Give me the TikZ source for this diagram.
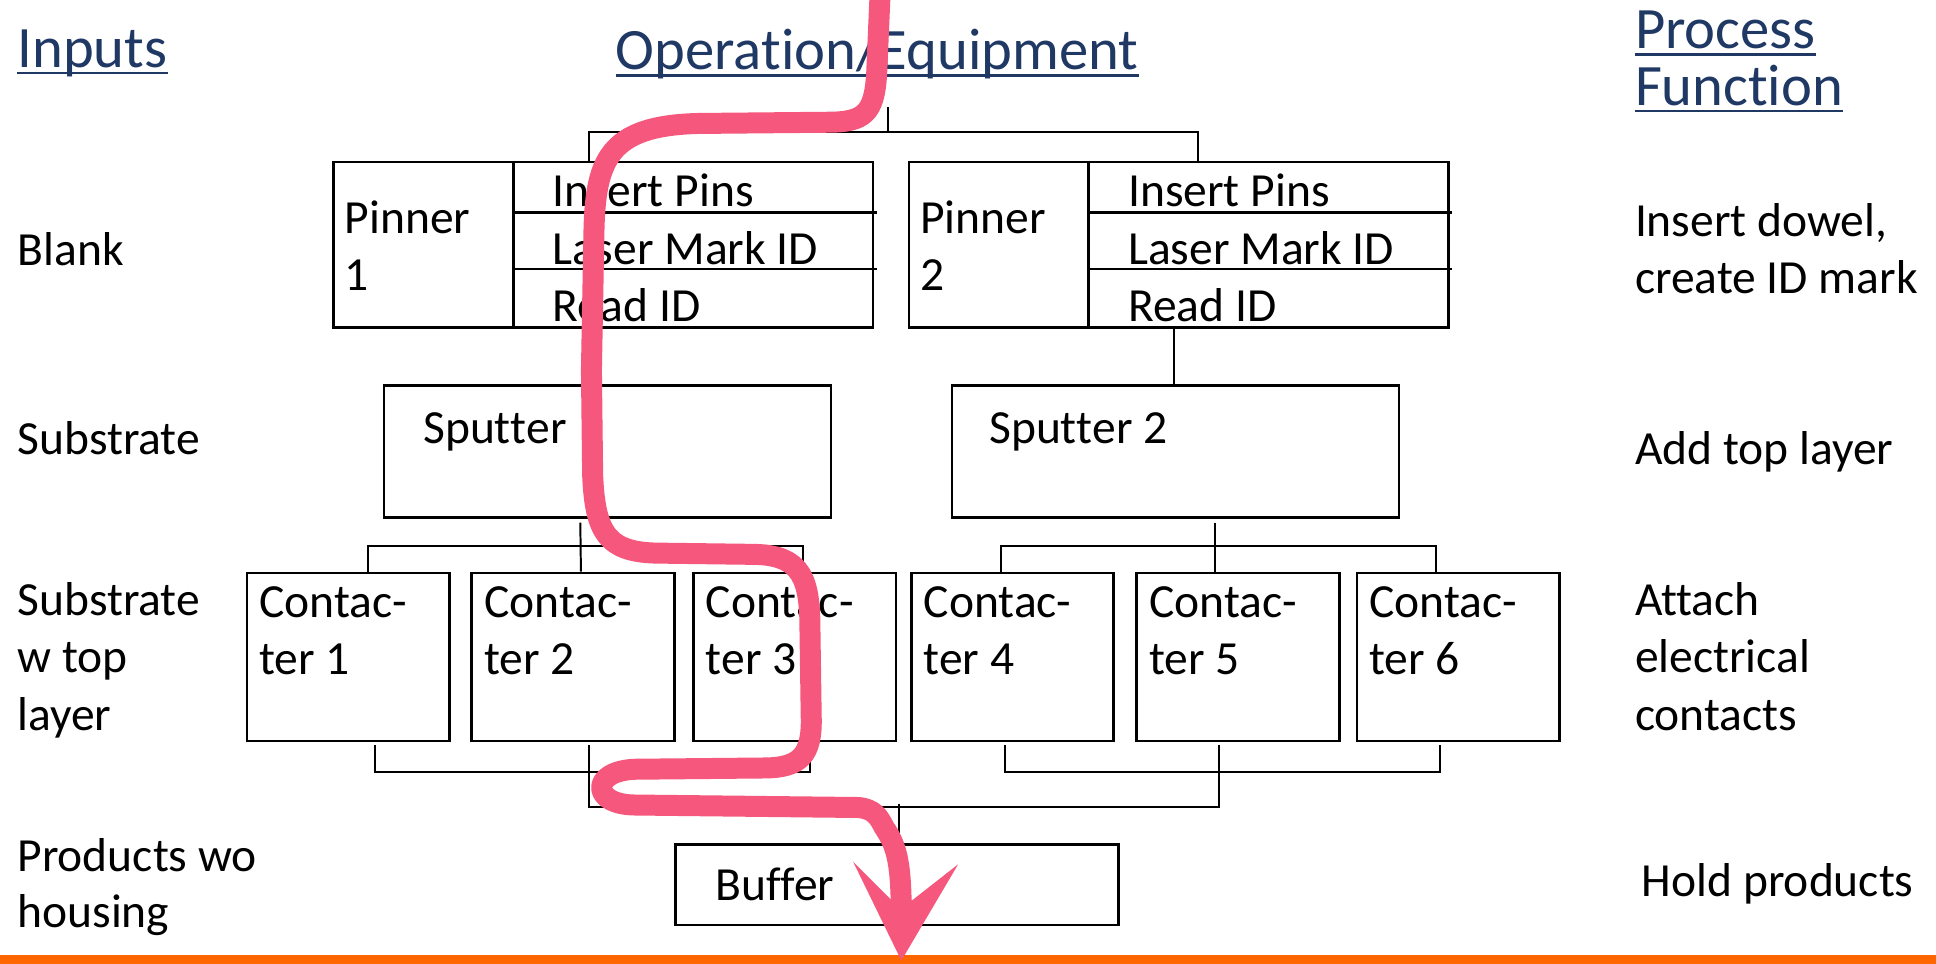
\documentclass[tikz,border=0pt]{standalone}
\usepackage{fontspec}
\setmainfont{Carlito}[Ligatures={NoCommon,NoContextual,NoRequired},RawFeature={-liga;-clig;-dlig;-calt}]
\definecolor{titleblue}{RGB}{31,56,100}
\definecolor{flowpink}{RGB}{245,88,124}
\definecolor{orangeline}{RGB}{255,102,0}
\newcommand\mylblfont{\fontsize{38.5}{46.5}\selectfont}
\newcommand\myttlfont{\fontsize{47.5}{52}\selectfont}
\newcommand\nl{\kern0pt}
\tikzset{
  lbl/.style={anchor=base west, inner sep=0pt, font=\mylblfont},
  ttl/.style={anchor=base west, inner sep=0pt, font=\myttlfont, text=titleblue},
  uline/.style={draw=titleblue, line width=2.2pt},
  box/.style={draw, line width=2.2pt, inner sep=0pt, anchor=north west},
  cbox/.style={box, minimum width=164pt, minimum height=136pt},
  conn/.style={line width=1.6pt},
  flow/.style={draw=flowpink, line width=17pt, line cap=butt, line join=round},
}
\begin{document}
\begin{tikzpicture}[x=1pt, y=-1pt]
\useasboundingbox (0,0) rectangle (1568,780);
\fill[white] (0,0) rectangle (1568,780);

% titles
\node[ttl] (tin) at (14,54.7) {Inputs};
\node[ttl] (top) at (498.5,56.5) {Operat\nl ion/Equipment};
\node[ttl] (tpr) at (1324,39.5) {Process};
\node[ttl] (tfu) at (1324,85.5) {Funct\nl ion};
\foreach \n in {tin,top,tpr,tfu}
  \draw[uline] ([yshift=-4.5pt]\n.base west) -- ([yshift=-4.5pt]\n.base east);

% left labels
\node[lbl] (l1) at (14,215) {Blank};
\node[lbl] (l2) at (14,368) {Substrate};
\node[lbl] (l3a) at (14,498.5) {Substrate};
\node[lbl] (l3b) at (14,545) {w top};
\node[lbl] (l3c) at (14,592) {layer};
\node[lbl] (l4a) at (14,705.5) {Products wo};
\node[lbl] (l4b) at (14,751) {housing};

% right labels
\node[lbl] (r1a) at (1324,191.5) {Insert dowel,};
\node[lbl] (r1b) at (1324,237.8) {create ID mark};
\node[lbl] (r2) at (1324,376.6) {Add top layer};
\node[lbl] (r3a) at (1324,498.5) {Attach};
\node[lbl] (r3b) at (1324,544.8) {electrical};
\node[lbl] (r3c) at (1324,592) {contacts};
\node[lbl] (r4) at (1329.6,726.4) {Hold products};

% pinner boxes
\node[box, minimum width=437pt, minimum height=134pt] (pin1) at (269,130) {};
\node[box, minimum width=437pt, minimum height=134pt] (pin2) at (735,130) {};
\draw[line width=2pt] ([xshift=147pt]pin1.north west) -- ([xshift=147pt]pin1.south west);
\draw[line width=2pt] ([xshift=147pt,yshift=-42pt]pin1.north west) -- ([xshift=2pt,yshift=-42pt]pin1.north east);
\draw[line width=2pt] ([xshift=147pt,yshift=-88pt]pin1.north west) -- ([xshift=2pt,yshift=-88pt]pin1.north east);
\draw[line width=2pt] ([xshift=146.5pt]pin2.north west) -- ([xshift=146.5pt]pin2.south west);
\draw[line width=2pt] ([xshift=146.5pt,yshift=-42pt]pin2.north west) -- ([xshift=2pt,yshift=-42pt]pin2.north east);
\draw[line width=2pt] ([xshift=146.5pt,yshift=-88pt]pin2.north west) -- ([xshift=2pt,yshift=-88pt]pin2.north east);

\node[lbl] (p1a) at (279,189.5) {Pinner};
\node[lbl] (p1b) at (279,235) {1};
\node[lbl] (p1c) at (447,167.4) {Insert Pins};
\node[lbl] (p1d) at (447,214) {Laser Mark ID};
\node[lbl] (p1e) at (447,260) {Read ID};
\node[lbl] (p2a) at (745,189.5) {Pinner};
\node[lbl] (p2b) at (745,235) {2};
\node[lbl] (p2c) at (913.5,167.4) {Insert Pins};
\node[lbl] (p2d) at (913.5,214) {Laser Mark ID};
\node[lbl] (p2e) at (913.5,260) {Read ID};

% sputters
\node[box, minimum width=362pt, minimum height=107pt] (spt1) at (310,311) {};
\node[box, minimum width=362pt, minimum height=107pt] (spt2) at (770,311) {};
\node[lbl] (s1t) at (342.6,359) {Sput\nl ter};
\node[lbl] (s2t) at (801,359) {Sput\nl ter 2};

% contacters
\node[cbox] (c1) at (199,463) {};
\node[cbox] (c2) at (381,463) {};
\node[cbox] (c3) at (560.5,463) {};
\node[cbox] (c4) at (737,463) {};
\node[cbox] (c5) at (919.5,463) {};
\node[cbox] (c6) at (1098,463) {};
\foreach \c/\k in {c1/1,c2/2,c3/3,c4/4,c5/5,c6/6}{
  \node[lbl] (\c a) at ([xshift=11pt,yshift=-37pt]\c.north west) {Contac-};
  \node[lbl] (\c b) at ([xshift=11pt,yshift=-83pt]\c.north west) {ter \k};
}

% buffer
\node[box, minimum width=359pt, minimum height=65pt] (buf) at (546,683) {};
\node[lbl] (buft) at (579.6,729) {Buffer};

% connectors: top tree
\coordinate (feed) at (719,87);
\draw[conn] (feed) -- ++(0,20);
\draw[conn] ([xshift=208pt]pin1.north west) -- ++(0,-23) -| ([xshift=235pt]pin2.north west);
% pinner -> sputter
\draw[conn] ([xshift=218pt]pin1.south west) -- ([xshift=177pt]spt1.north west);
\draw[conn] ([xshift=216pt]pin2.south west) -- ([xshift=181pt]spt2.north west);
% sputter -> contacters
\draw[conn] ([xshift=160pt,yshift=-3pt]spt1.south west) -- ([xshift=89.5pt]c2.north west);
\draw[conn] ([xshift=99pt]c1.north west) -- ++(0,-20.5) -| ([xshift=89.5pt]c3.north west);
\draw[conn] ([xshift=214pt,yshift=-3pt]spt2.south west) -- ([xshift=64.5pt]c5.north west);
\draw[conn] ([xshift=74pt]c4.north west) -- ++(0,-20.5) -| ([xshift=65pt]c6.north west);
% contacters -> buffer
\draw[conn] ([xshift=105pt,yshift=-2.5pt]c1.south west) -- ++(0,21.5) -| ([xshift=95.5pt,yshift=-2.5pt]c3.south west);
\draw[conn] ([xshift=77pt,yshift=-2.5pt]c4.south west) -- ++(0,21.5) -| ([xshift=68pt,yshift=-2.5pt]c6.south west);
\draw[conn] ([xshift=96pt,yshift=-2.5pt]c2.south west) -- ++(0,50) -| ([xshift=67.5pt,yshift=-2.5pt]c5.south west);
\draw[conn] (728,651) -- ([xshift=182pt]buf.north west);

% bottom orange rule
\fill[orangeline] (0,773.5) rectangle (1568,781);

% pink flow
\draw[flow] (713,-10) -- (710,60) .. controls (708,92) and (700,99) .. (670,99)
  -- (565,100) .. controls (492,102) and (482,130) .. (481,190)
  -- (479,300) -- (480,385) .. controls (482,432) and (492,448) .. (535,448)
  -- (612,449) .. controls (650,450) and (656,470) .. (656,510)
  -- (657,580) .. controls (658,612) and (648,622) .. (618,622)
  -- (515,623) .. controls (478,624) and (478,652) .. (515,652)
  -- (695,654) .. controls (708,655) and (712,662) .. (716,670)
  .. controls (727,686) and (730,700) .. (730,745);
\fill[flowpink] (730,778) -- (691,698) -- (722,729) -- (739,729) -- (776,700) -- cycle;
\end{tikzpicture}
\end{document}
